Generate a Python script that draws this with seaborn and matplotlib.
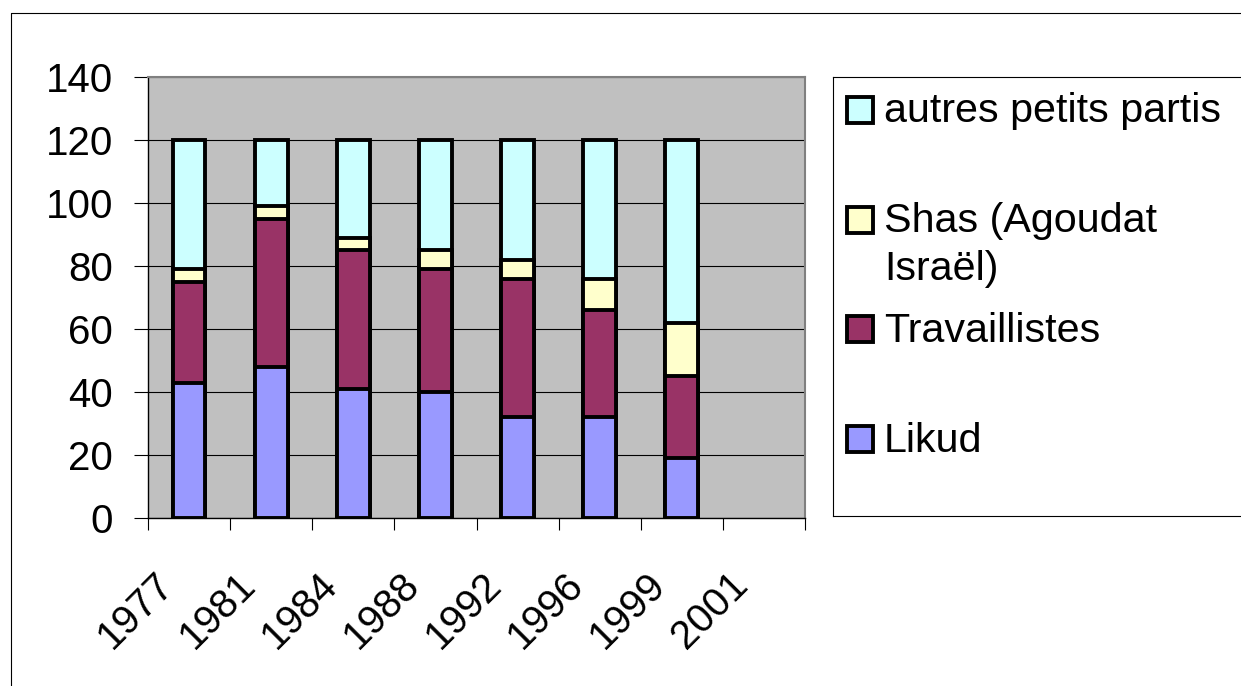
import numpy as np
import pandas as pd
import matplotlib
matplotlib.use("Agg")
import matplotlib.pyplot as plt
import matplotlib.transforms as mtransforms
from matplotlib.patches import Rectangle
from matplotlib.lines import Line2D
from matplotlib.ticker import FixedLocator
import seaborn as sns

# ---- data ----
years = ["1977", "1981", "1984", "1988", "1992", "1996", "1999", "2001"]
likud = [43, 48, 41, 40, 32, 32, 19]
travaillistes = [32, 47, 44, 39, 44, 34, 26]
shas = [4, 4, 4, 6, 6, 10, 17]
autres = [41, 21, 31, 35, 38, 44, 58]
series_names = ["Likud", "Travaillistes", "Shas (Agoudat\nIsraël)", "autres petits partis"]
colors = ["#9999FF", "#993366", "#FFFFCC", "#CCFFFF"]
y_ticks = [0, 20, 40, 60, 80, 100, 120, 140]

sns.set_style("white")
plt.rcParams['font.family'] = ['Liberation Sans', 'DejaVu Sans']

W, H = 1241, 686
fig = plt.figure(figsize=(W / 100, H / 100), dpi=100)
fig.patch.set_facecolor("white")

df = pd.DataFrame({
    "annee": years[:len(likud)],
    series_names[0]: likud,
    series_names[1]: travaillistes,
    series_names[2]: shas,
    series_names[3]: autres,
})
cum = df[series_names].cumsum(axis=1)

ax = fig.add_axes([148 / W, 1 - 518 / H, (805 - 148) / W, (518 - 77) / H])
ax.set_facecolor("#C0C0C0")

for k in reversed(range(len(series_names))):
    sns.barplot(x=df["annee"], y=cum[series_names[k]], order=years,
                color=colors[k], saturation=1, width=0.4,
                edgecolor="black", linewidth=2.8, errorbar=None, ax=ax)

ax.set_xlabel("")
ax.set_ylabel("")
ax.set_ylim(0, 140)
ax.set_xlim(-0.5, len(years) - 0.5)
ax.set_yticks(y_ticks)
ax.set_yticklabels([str(v) for v in y_ticks])
ax.yaxis.grid(True, color="black", linewidth=0.8)
ax.xaxis.grid(False)
ax.set_axisbelow(True)

for s in ["left", "bottom"]:
    ax.spines[s].set_color("black")
    ax.spines[s].set_linewidth(1.0)
for s in ["top", "right"]:
    ax.spines[s].set_color("#808080")
    ax.spines[s].set_linewidth(1.5)

ax.tick_params(axis="y", length=10, width=0.8, direction="out", pad=15,
               labelsize=29, colors="black", left=True)
ax.xaxis.set_minor_locator(FixedLocator(np.arange(-0.5, len(years), 1.0)))
ax.tick_params(axis="x", which="major", length=0, pad=44, labelsize=29,
               colors="black", bottom=True)
ax.tick_params(axis="x", which="minor", length=8.6, width=0.8,
               direction="out", color="black", bottom=True)

offset = mtransforms.ScaledTranslation(-0.22, 0, fig.dpi_scale_trans)
for lbl in ax.get_xticklabels():
    lbl.set_rotation(45)
    lbl.set_ha("right")
    lbl.set_va("center")
    lbl.set_rotation_mode("anchor")
    lbl.set_transform(lbl.get_transform() + offset)

# ---- legend box (pixel coordinates) ----
lax = fig.add_axes([833 / W, 1 - 516 / H, (1300 - 833) / W, (516 - 77) / H])
lax.set_xlim(833, 1300)
lax.set_ylim(516, 77)
lax.set_xticks([])
lax.set_yticks([])
lax.set_facecolor("white")
for s in lax.spines.values():
    s.set_color("black")
    s.set_linewidth(0.8)

entry_centers = [439, 329, 219.5, 109.5]
for k in reversed(range(len(series_names))):
    c = entry_centers[k]
    lax.add_patch(Rectangle((847, c - 13), 26, 26, facecolor=colors[k],
                            edgecolor="black", linewidth=2.8))
    lines = series_names[k].split("\n")
    for j, line in enumerate(lines):
        lax.text(884, c + 12.5 + 48 * j, line, fontsize=29.7, va="baseline",
                 ha="left", color="black")

# ---- figure border ----
fig.add_artist(Line2D([11 / W, 11 / W], [0, 1 - 13 / H], color="black",
                      linewidth=0.8, transform=fig.transFigure))
fig.add_artist(Line2D([11 / W, 1], [1 - 13 / H, 1 - 13 / H], color="black",
                      linewidth=0.8, transform=fig.transFigure))

fig.savefig("out.png", dpi=100)
